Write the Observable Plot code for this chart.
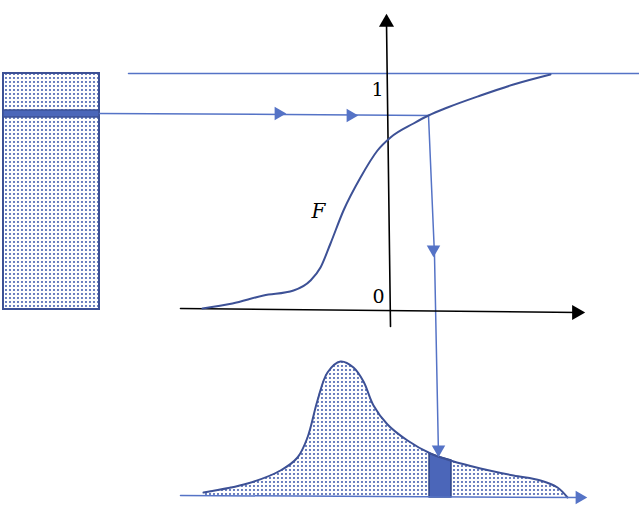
<!DOCTYPE html>
<html><head><meta charset="utf-8">
<script src="https://cdn.jsdelivr.net/npm/d3@7"></script>
<script src="https://cdn.jsdelivr.net/npm/@observablehq/plot@0.6"></script>
<style>html,body{margin:0;padding:0;background:#fff;}</style>
</head><body><div id="chart"></div>
<script>
// Diagram coordinates (pixel-like units of the sketch)
const cdfX = [202,232,263,293,310,320,330,343,360,377,390,413,428,447,480,513,550];
const cdfY = [308,303,295,290,280,267,243,210,177,150,137,123,115,107,95,84,74];
const pdfX = [203,247,280,297,307,317,327,340,353,363,373,387,407,430,450,480,513,540,557,567];
const pdfY = [492,483,470,457,437,400,372,361,367,381,405,424,440,453,460,468,475,480,487,497];
const sliceX = [429,440,451];
const sliceTop = [453,457,460];
const baseY = 497;
const boxX = [3,99], boxY = [73,309];
const bandY = [110,117];
const ruleTopX = [128,639], ruleTopY = 73;
const sampleLineX = [99,285,428], sampleLineY = [113,114,115];
const dropX = [428,434,438], dropY = [115,255,455];
const xAxisX = [180,578], xAxisY = [308,312];
const yAxisX = [390,386], yAxisY = [326,22];
const blueHeads = [{x:278,y:113,r:90},{x:350,y:115,r:90},{x:433,y:249,r:180},{x:438,y:449,r:180},{x:579,y:497,r:90}];
const blackHeads = [{x:576,y:312,r:90},{x:386,y:22,r:0}];
const tickLabels = [{t:"1",x:377,y:89},{t:"0",x:378,y:296}];
const curveLabel = {t:"F",x:318,y:211};

const lineBlue = "#5573c6", darkBlue = "#3d5196", fillBlue = "#4b66b9";
const cdf = cdfX.map((x,i)=>({x,y:cdfY[i]}));
const pdf = pdfX.map((x,i)=>({x,y:pdfY[i]}));
const slice = sliceX.map((x,i)=>({x,y:sliceTop[i]}));

const plot = Plot.plot({
  width:639, height:512, margin:0,
  x:{domain:[0,639], range:[0,639], axis:null},
  y:{domain:[0,512], range:[0,512], axis:null},
  marks:[
    Plot.rect([{x1:boxX[0],x2:boxX[1],y1:boxY[0],y2:boxY[1]}],{x1:"x1",x2:"x2",y1:"y1",y2:"y2",fill:"url(#dots)",stroke:darkBlue,strokeWidth:2}),
    Plot.rect([{x1:boxX[0],x2:boxX[1],y1:bandY[0],y2:bandY[1]}],{x1:"x1",x2:"x2",y1:"y1",y2:"y2",fill:fillBlue,stroke:darkBlue,strokeWidth:1.5}),
    Plot.areaY(pdf,{x:"x",y1:baseY,y2:"y",fill:"url(#dots)",curve:"catmull-rom"}),
    Plot.areaY(slice,{x:"x",y1:baseY,y2:"y",fill:fillBlue,stroke:"#2f4486",strokeWidth:1.5}),
    Plot.line(pdf,{x:"x",y:"y",stroke:darkBlue,strokeWidth:2,curve:"catmull-rom"}),
    Plot.line([{x:180,y:495},{x:580,y:497}],{x:"x",y:"y",stroke:lineBlue,strokeWidth:1.5}),
    Plot.line([{x:ruleTopX[0],y:ruleTopY},{x:ruleTopX[1],y:ruleTopY}],{x:"x",y:"y",stroke:lineBlue,strokeWidth:1.5}),
    Plot.line(sampleLineX.map((x,i)=>({x,y:sampleLineY[i]})),{x:"x",y:"y",stroke:lineBlue,strokeWidth:1.5}),
    Plot.line(dropX.map((x,i)=>({x,y:dropY[i]})),{x:"x",y:"y",stroke:lineBlue,strokeWidth:1.5}),
    Plot.line(xAxisX.map((x,i)=>({x,y:xAxisY[i]})),{x:"x",y:"y",stroke:"#000",strokeWidth:1.6}),
    Plot.line(yAxisX.map((x,i)=>({x,y:yAxisY[i]})),{x:"x",y:"y",stroke:"#000",strokeWidth:1.6}),
    Plot.line(cdf,{x:"x",y:"y",stroke:darkBlue,strokeWidth:2,curve:"monotone-x"}),
    Plot.dot(blueHeads,{x:"x",y:"y",rotate:"r",symbol:"triangle",r:5,fill:lineBlue,stroke:"none"}),
    Plot.dot(blackHeads,{x:"x",y:"y",rotate:"r",symbol:"triangle",r:5.6,fill:"#000",stroke:"none"}),
    Plot.text(tickLabels,{x:"x",y:"y",text:"t",fontSize:19,fontFamily:"DejaVu Serif",fill:"#000"}),
    Plot.text([curveLabel],{x:"x",y:"y",text:"t",fontSize:20,fontStyle:"italic",fontFamily:"DejaVu Serif",fill:"#000"})
  ]
});
const svg = d3.select(plot);
const pat = svg.insert("defs",":first-child").append("pattern")
  .attr("id","dots").attr("patternUnits","userSpaceOnUse").attr("width",4).attr("height",4);
pat.append("rect").attr("width",4).attr("height",4).attr("fill","#fff");
pat.append("circle").attr("cx",2).attr("cy",2).attr("r",1.05).attr("fill","#4660b0");
document.getElementById("chart").appendChild(plot);
</script></body></html>
